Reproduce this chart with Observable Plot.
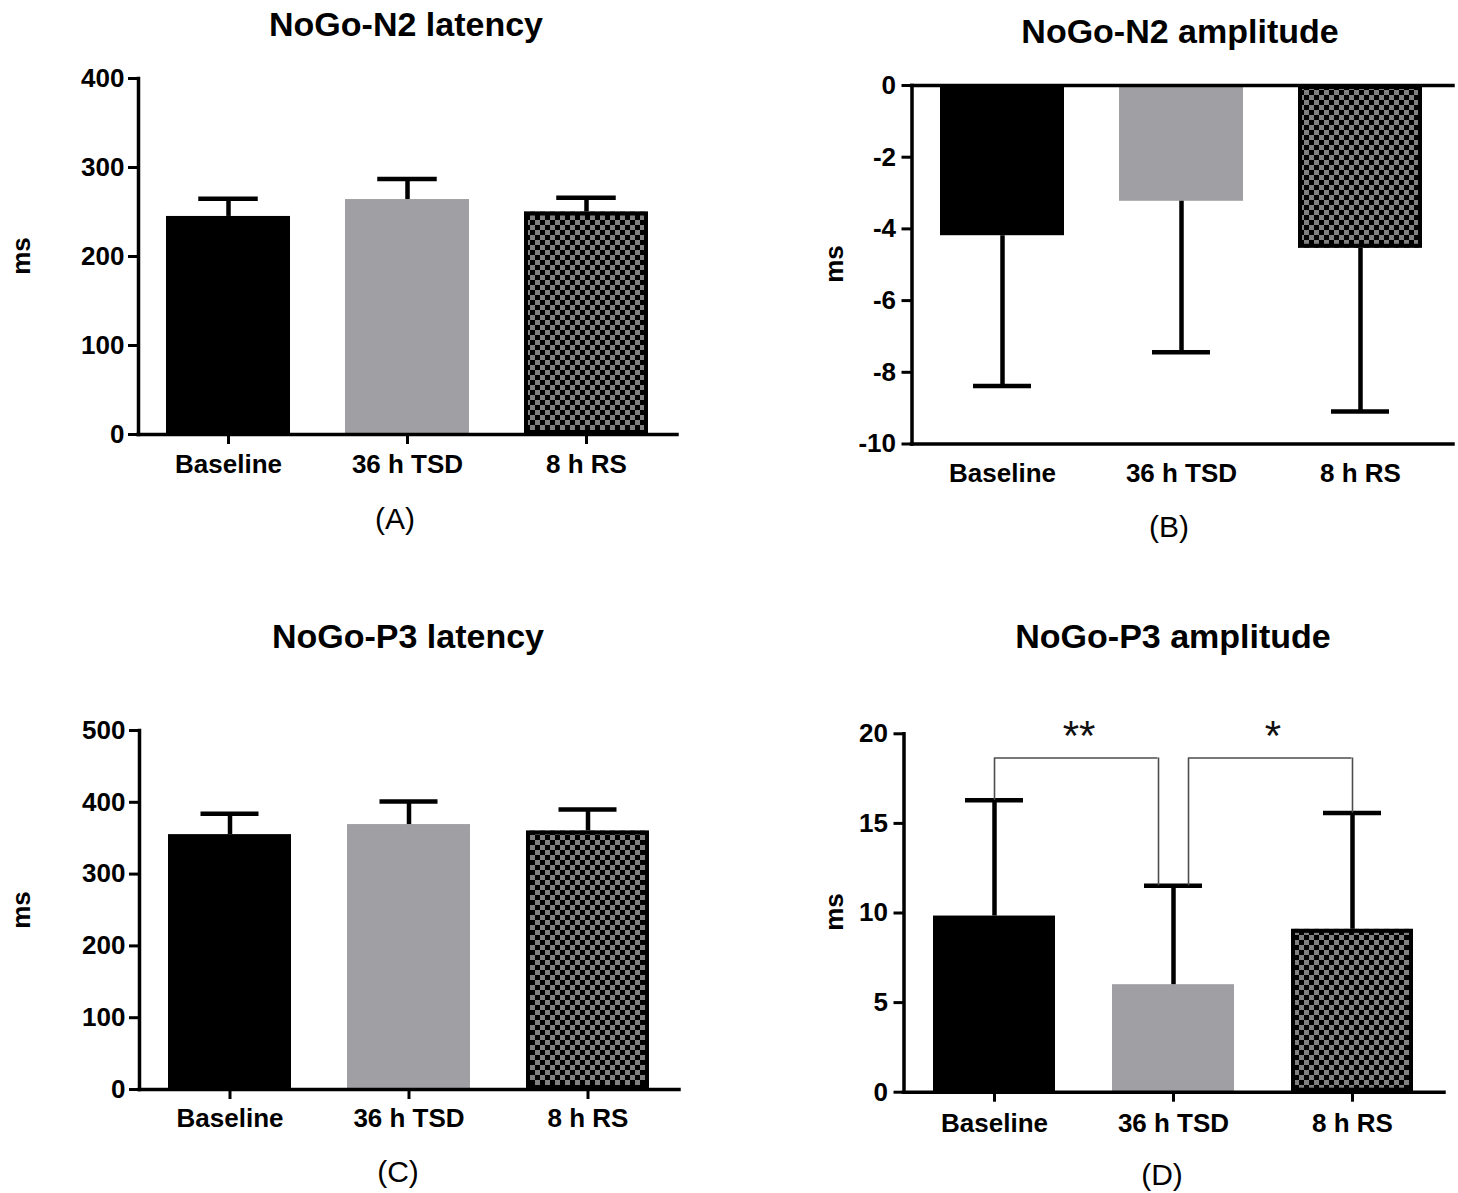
<!DOCTYPE html>
<html>
<head>
<meta charset="utf-8">
<script src="https://cdn.jsdelivr.net/npm/d3@7"></script>
<script src="https://cdn.jsdelivr.net/npm/@observablehq/plot@0.6"></script>
<style>
  html, body { margin: 0; padding: 0; background: #fff; }
  #wrap { position: relative; width: 1458px; height: 1193px; background: #fff; overflow: hidden;
          font-family: "Liberation Sans", Arial, sans-serif; color: #000; }
  .t { position: absolute; white-space: nowrap; line-height: 1; transform: translate(-50%, -50%); }
  .title { font-size: 34px; font-weight: bold; }
  .cap { font-size: 30px; font-weight: normal; }
  .ms { font-size: 26px; font-weight: bold; transform: translate(-50%, -50%) rotate(-90deg); }
</style>
</head>
<body>
<div id="wrap"></div>
<script>
// ---------------- data ----------------
const groups = ["Baseline", "36 h TSD", "8 h RS"];

const n2LatencyMean = [245, 264, 250];
const n2LatencySD   = [20, 23, 16];

const n2AmplitudeMean = [-4.19, -3.23, -4.54];
const n2AmplitudeSD   = [4.19, 4.21, 4.55];

const p3LatencyMean = [355, 369, 360];
const p3LatencySD   = [29, 32, 30];

const p3AmplitudeMean = [9.83, 6.0, 9.09];
const p3AmplitudeSD   = [6.46, 5.52, 6.49];

const p3Comparisons = [
  {a: "Baseline", b: "36 h TSD", label: "**"},
  {a: "36 h TSD", b: "8 h RS", label: "*"}
];
const p3BracketLevel = 18.65;

const ticksA = [0, 100, 200, 300, 400];
const ticksB = [0, -2, -4, -6, -8, -10];
const ticksC = [0, 100, 200, 300, 400, 500];
const ticksD = [0, 5, 10, 15, 20];

const panelTitles = ["NoGo-N2 latency", "NoGo-N2 amplitude", "NoGo-P3 latency", "NoGo-P3 amplitude"];
const panelCaptions = ["(A)", "(B)", "(C)", "(D)"];
const yLabel = "ms";

// ---------------- layout (page pixels) ----------------
const panels = [
  {key: "A", mean: n2LatencyMean, sd: n2LatencySD, yDomain: [0, 400], yTicks: ticksA, baseLines: [0],
   svg: {left: 0, top: 40, width: 729, height: 460},
   frame: {left: 138, right: 677, top: 78, bottom: 434},
   band: {start: 165.75, end: 647.25, bw: 123.5},
   titlePos: [406, 24], capPos: [395, 519], msPos: [21, 256], xTickSize: 10, xPad: 10, yPad: 4},
  {key: "B", mean: n2AmplitudeMean, sd: n2AmplitudeSD, yDomain: [-10, 0], yTicks: ticksB, baseLines: [0, -10],
   svg: {left: 729, top: 40, width: 729, height: 460},
   frame: {left: 911.5, right: 1453, top: 85, bottom: 443.5},
   band: {start: 938.5, end: 1423, bw: 125},
   titlePos: [1180, 31], capPos: [1169, 527], msPos: [834, 264], xTickSize: 0, xPad: 19.5, yPad: 6},
  {key: "C", mean: p3LatencyMean, sd: p3LatencySD, yDomain: [0, 500], yTicks: ticksC, baseLines: [0],
   svg: {left: 0, top: 690, width: 729, height: 470},
   frame: {left: 139, right: 679, top: 730, bottom: 1089},
   band: {start: 167, end: 650.5, bw: 124},
   titlePos: [408, 636], capPos: [398, 1172], msPos: [21, 910], xTickSize: 10, xPad: 9.5, yPad: 4},
  {key: "D", mean: p3AmplitudeMean, sd: p3AmplitudeSD, yDomain: [0, 20], yTicks: ticksD, baseLines: [0],
   svg: {left: 729, top: 690, width: 729, height: 470},
   frame: {left: 903.5, right: 1444, top: 733.3, bottom: 1091.7},
   band: {start: 932, end: 1415, bw: 123},
   titlePos: [1173, 636], capPos: [1162, 1175], msPos: [834, 912], xTickSize: 10, xPad: 11, yPad: 6,
   comparisons: p3Comparisons, bracketLevel: p3BracketLevel, bracketOffsets: [[0, -15], [15, 0]]}
];

const wrap = document.getElementById("wrap");
const FONT = "'Liberation Sans', Arial, sans-serif";

function addText(cls, txt, pos) {
  const el = document.createElement("div");
  el.className = "t " + cls;
  el.textContent = txt;
  el.style.left = pos[0] + "px";
  el.style.top = pos[1] + "px";
  wrap.appendChild(el);
}

panels.forEach((P, idx) => {
  const data = groups.map((g, i) => ({group: g, mean: P.mean[i], sd: P.sd[i]}));
  const errEnd = d => d.mean + Math.sign(d.mean) * d.sd;
  const step = (P.band.end - P.band.start - P.band.bw) / 2;
  const pad = 1 - P.band.bw / step;
  const bw = P.band.bw;
  const capInset = (bw - 59) / 2;
  const pid = "chk" + P.key;

  const marks = [
    Plot.barY(data, {x: "group", y: "mean", fill: "group"}),
    Plot.barY(data.filter(d => d.group === "8 h RS"), {x: "group", y: "mean", fill: "none", stroke: "#000", strokeWidth: 4, inset: 2}),
    Plot.ruleX(data, {x: "group", y1: "mean", y2: errEnd, stroke: "#000", strokeWidth: 4.5}),
    Plot.tickY(data, {x: "group", y: errEnd, stroke: "#000", strokeWidth: 4.5, insetLeft: capInset, insetRight: capInset})
  ];

  if (P.comparisons) {
    const capOf = g => errEnd(data.find(d => d.group === g));
    const yb = P.bracketLevel;
    P.comparisons.forEach((c, i) => {
      const [offA, offB] = P.bracketOffsets[i];
      const st = {stroke: "#4d4d4d", strokeWidth: 1.6};
      marks.push(Plot.ruleX([c], {x: "a", y1: d => capOf(d.a), y2: yb, dx: offA, ...st}));
      marks.push(Plot.ruleX([c], {x: "b", y1: d => capOf(d.b), y2: yb, dx: offB, ...st}));
      marks.push(Plot.ruleY([c], {y: yb, x1: "a", x2: "b", insetLeft: bw / 2 + offA, insetRight: bw / 2 - offB, ...st}));
      marks.push(Plot.text([c], {x: "a", y: yb, text: "label", dx: step / 2 + (offA + offB) / 2 + 2, dy: -21,
        fontSize: 42, fontWeight: "normal", fill: "#111", ariaLabel: "stars"}));
    });
  }

  marks.push(
    Plot.ruleY(P.baseLines, {stroke: "#000", strokeWidth: 3.5, strokeLinecap: "square"}),
    Plot.frame({anchor: "left", stroke: "#000", strokeWidth: 3.5, strokeLinecap: "square"}),
    Plot.axisY(P.yTicks, {tickSize: 10, tickPadding: P.yPad, tickFormat: d => String(d), label: null,
      fontSize: 26, fontWeight: "bold", strokeWidth: 3}),
    Plot.axisX({tickSize: P.xTickSize, tickPadding: P.xPad, label: null,
      fontSize: 26, fontWeight: "bold", strokeWidth: 3})
  );

  const svg = Plot.plot({
    width: P.svg.width,
    height: P.svg.height,
    marginLeft: P.frame.left - P.svg.left,
    marginRight: P.svg.left + P.svg.width - P.frame.right,
    marginTop: P.frame.top - P.svg.top,
    marginBottom: P.svg.top + P.svg.height - P.frame.bottom,
    x: {type: "band", domain: groups, range: [P.band.start - P.svg.left, P.band.end - P.svg.left],
        paddingInner: pad, paddingOuter: 0, align: 0.5},
    y: {domain: P.yDomain},
    color: {type: "ordinal", domain: groups, range: ["#000000", "#a0a0a4", `url(#${pid})`]},
    style: {position: "absolute", left: P.svg.left + "px", top: P.svg.top + "px",
            fontFamily: FONT, fontSize: "26px", fontWeight: "bold", color: "#000", background: "transparent", overflow: "visible"},
    marks
  });

  const defs = d3.select(svg).insert("defs", ":first-child");
  const pat = defs.append("pattern").attr("id", pid).attr("patternUnits", "userSpaceOnUse")
    .attr("width", 10).attr("height", 10);
  pat.append("rect").attr("width", 10).attr("height", 10).attr("fill", "#808080");
  pat.append("rect").attr("width", 5).attr("height", 5).attr("fill", "#000");
  pat.append("rect").attr("x", 5).attr("y", 5).attr("width", 5).attr("height", 5).attr("fill", "#000");
  d3.select(svg).selectAll('g[aria-label="stars"] text').style("letter-spacing", "4px");

  wrap.appendChild(svg);

  addText("title", panelTitles[idx], P.titlePos);
  addText("cap", panelCaptions[idx], P.capPos);
  addText("ms", yLabel, P.msPos);
});
</script>
</body>
</html>
